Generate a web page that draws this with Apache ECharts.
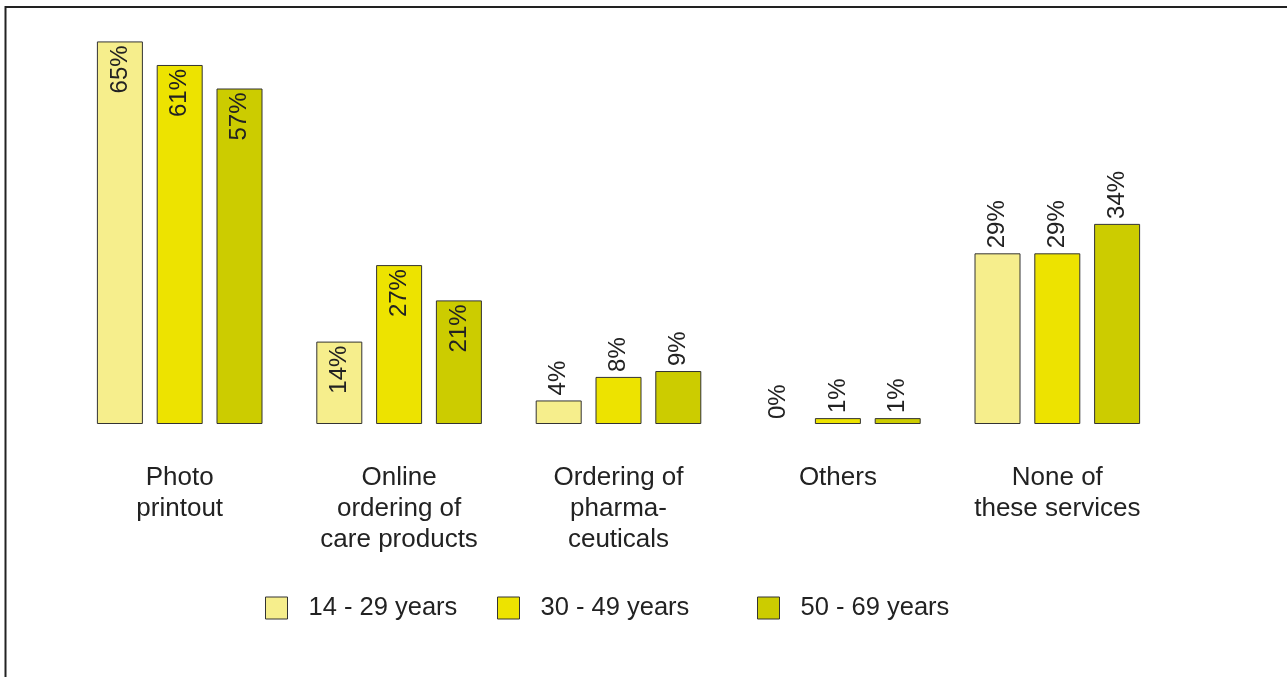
<!DOCTYPE html>
<html>
<head>
<meta charset="utf-8">
<script src="https://cdn.jsdelivr.net/npm/echarts@6/dist/echarts.min.js"></script>
<style>
  html, body { margin: 0; padding: 0; background: #fff; }
  #chart { width: 1287px; height: 677px; }
</style>
</head>
<body>
<div id="chart"></div>
<script>
  // survey: services used, by age group (%)
  const categories = ['Photo\nprintout', 'Online\nordering of\ncare products', 'Ordering of\npharma-\nceuticals', 'Others', 'None of\nthese services']
  const ageGroups = ['14 - 29 years', '30 - 49 years', '50 - 69 years']
  const young = [65, 14, 4, 0, 29]
  const middle = [61, 27, 8, 1, 29]
  const older = [57, 21, 9, 1, 34]

  const colors = ['#f6ee8c', '#ede300', '#cccc00']
  // categories whose labels sit inside the bar
  const insideCats = [0, 1]
  const font = '"Liberation Sans", Arial, sans-serif'

  const labelTop = {
    show: true,
    position: 'top',
    rotate: 90,
    align: 'left',
    verticalAlign: 'middle',
    distance: 5,
    fontSize: 24,
    fontFamily: font,
    color: '#222',
    formatter: '{c}%'
  }
  const labelInside = {
    position: 'insideTop',
    align: 'right',
    distance: 4
  }

  function makeItem(v, i) {
    const item = { value: v }
    if (insideCats.includes(i)) item.label = labelInside
    // zero values: no visible bar outline
    if (v === 0) item.itemStyle = { borderWidth: 0 }
    return item
  }

  function makeSeries(name, values, idx) {
    return {
      name: name,
      type: 'bar',
      barWidth: 46,
      barGap: '30%',
      itemStyle: { color: colors[idx], borderColor: '#333', borderWidth: 1 },
      label: labelTop,
      data: values.map(makeItem)
    }
  }

  const legendPos = [265, 497, 757]

  const chart = echarts.init(document.getElementById('chart'))
  chart.setOption({
    animation: false,
    backgroundColor: '#fff',
    textStyle: { fontFamily: font },
    graphic: [{
      type: 'rect',
      shape: { x: 5.5, y: 7, width: 1300, height: 700 },
      style: { fill: 'none', stroke: '#222', lineWidth: 2 }
    }],
    legend: ageGroups.map((g, i) => ({
      data: [g],
      left: legendPos[i],
      top: 595,
      padding: 0,
      itemWidth: 22,
      itemHeight: 22,
      icon: 'rect',
      itemStyle: { borderColor: '#333', borderWidth: 1 },
      textStyle: { fontSize: 25.5, fontFamily: font, color: '#222', padding: [0, 0, 0, 16] }
    })),
    grid: { left: 70, right: 120, top: 12, height: 412 },
    xAxis: {
      type: 'category',
      data: categories,
      axisLine: { show: false },
      axisTick: { show: false },
      axisLabel: {
        margin: 38,
        fontSize: 26,
        lineHeight: 31,
        fontFamily: font,
        color: '#222',
        interval: 0
      }
    },
    yAxis: {
      type: 'value',
      min: 0,
      max: 70,
      show: false,
      splitLine: { show: false }
    },
    series: [
      makeSeries(ageGroups[0], young, 0),
      makeSeries(ageGroups[1], middle, 1),
      makeSeries(ageGroups[2], older, 2)
    ]
  })
</script>
</body>
</html>
